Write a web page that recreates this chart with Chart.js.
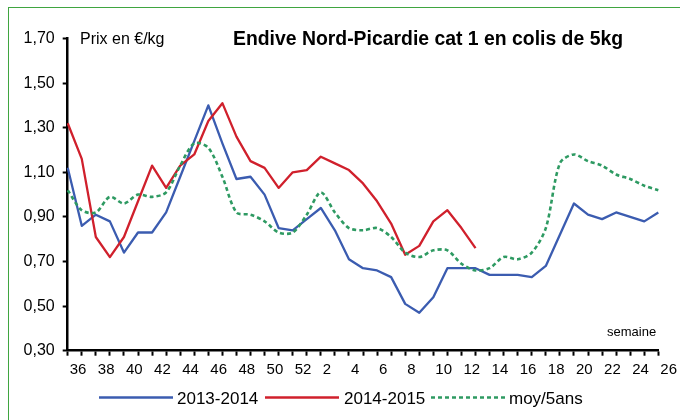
<!DOCTYPE html>
<html><head><meta charset="utf-8">
<script src="https://cdn.jsdelivr.net/npm/chart.js@4/dist/chart.umd.min.js"></script>
<style>
html,body{margin:0;padding:0;background:#fff;}
#wrap{position:relative;width:680px;height:420px;overflow:hidden;background:#fff;}
#frame{position:absolute;left:8px;top:7px;width:720px;height:460px;border:1px solid #3fa540;box-sizing:border-box;}
canvas{position:absolute;left:0;top:0;}
</style></head><body>
<div id="wrap"><div id="frame"></div><canvas id="c" width="680" height="420"></canvas></div>
<script>
const weeks = ['36','37','38','39','40','41','42','43','44','45','46','47','48','49','50','51','52',
  '1','2','3','4','5','6','7','8','9','10','11','12','13','14','15','16','17','18','19','20','21','22','23','24','25','26'];
const s2013 = [1.12,0.86,0.91,0.88,0.74,0.83,0.83,0.92,1.08,1.24,1.40,1.23,1.07,1.08,1.00,0.85,0.84,0.89,0.94,0.84,
  0.71,0.67,0.66,0.63,0.51,0.47,0.54,0.67,0.67,0.67,0.64,0.64,0.64,0.63,0.68,0.82,0.96,0.91,0.89,0.92,0.90,0.88,0.92];
const s2014 = [1.32,1.16,0.81,0.72,0.81,0.97,1.13,1.03,1.13,1.18,1.33,1.41,1.26,1.15,1.12,1.03,1.10,1.11,1.17,1.14,
  1.11,1.05,0.97,0.87,0.73,0.77,0.88,0.93,0.85,0.76,null,null,null,null,null,null,null,null,null,null,null,null,null];
const sMoy = [1.02,0.93,0.92,0.99,0.96,1.00,0.99,1.01,1.13,1.23,1.21,1.08,0.92,0.91,0.88,0.83,0.83,0.91,1.01,0.92,
  0.85,0.84,0.85,0.81,0.74,0.72,0.75,0.75,0.69,0.66,0.67,0.72,0.71,0.74,0.85,1.14,1.18,1.15,1.13,1.09,1.07,1.04,1.02];
const seriesNames = ['2013-2014','2014-2015','moy/5ans'];
const yTicks = [0.30,0.50,0.70,0.90,1.10,1.30,1.50,1.70];
const titleText = 'Endive Nord-Picardie cat 1 en colis de 5kg';
const unitText = 'Prix en €/kg';
const xTitleText = 'semaine';

const FONT = '"Liberation Sans", Arial, sans-serif';

const extras = {
  id: 'extras',
  afterDraw(chart) {
    const ctx = chart.ctx;
    ctx.save();
    ctx.fillStyle = '#000';
    ctx.textBaseline = 'alphabetic';
    ctx.textAlign = 'center';
    ctx.font = 'bold 19.4px ' + FONT;
    ctx.fillText(titleText, 428, 45);
    ctx.textAlign = 'left';
    ctx.font = '16px ' + FONT;
    ctx.fillText(unitText, 80, 43.5);
    ctx.font = '13px ' + FONT;
    ctx.fillText(xTitleText, 607, 336);
    // legend
    const lineX = [99, 265, 431];
    const textX = [177, 344, 509];
    const ly = 397.5;
    chart.data.datasets.forEach((ds, i) => {
      ctx.save();
      ctx.strokeStyle = ds.borderColor;
      ctx.lineWidth = ds.borderWidth;
      ctx.setLineDash(ds.borderDash || []);
      ctx.beginPath();
      ctx.moveTo(lineX[i], ly);
      ctx.lineTo(lineX[i] + 74, ly);
      ctx.stroke();
      ctx.restore();
      ctx.font = '17px ' + FONT;
      ctx.fillStyle = '#000';
      ctx.textAlign = 'left';
      ctx.textBaseline = 'alphabetic';
      ctx.fillText(ds.label, textX[i], 404);
    });
    ctx.restore();
  }
};

new Chart(document.getElementById('c'), {
  type: 'line',
  data: {
    labels: weeks,
    datasets: [
      { label: seriesNames[0], data: s2013, borderColor: '#3b5cb0', borderWidth: 2.3, pointRadius: 0, tension: 0, order: 2, borderJoinStyle: 'round' },
      { label: seriesNames[1], data: s2014, borderColor: '#d0202c', borderWidth: 2.3, pointRadius: 0, tension: 0, order: 1, borderJoinStyle: 'round' },
      { label: seriesNames[2], data: sMoy, borderColor: '#2e9a62', borderWidth: 2.6, borderDash: [4,3], pointRadius: 0, tension: 0.3, order: 0 }
    ]
  },
  options: {
    responsive: false,
    animation: false,
    events: [],
    layout: { padding: { left: 7.7, top: 38.5, right: 21, bottom: 29.3 } },
    plugins: { legend: { display: false }, title: { display: false }, tooltip: { enabled: false } },
    scales: {
      x: {
        type: 'category',
        offset: false,
        grid: { drawOnChartArea: false, drawTicks: true, tickLength: 5, tickWidth: 2, tickColor: '#000' },
        border: { display: true, color: '#000', width: 2.5 },
        ticks: {
          autoSkip: false, maxRotation: 0, minRotation: 0, align: 'start', labelOffset: 2, padding: 5,
          color: '#000', font: { family: FONT, size: 15 },
          callback: (v, i) => (i % 2 === 0 ? weeks[i] : '')
        },
        afterFit: (s) => { s.height = 40; }
      },
      y: {
        min: yTicks[0], max: yTicks[yTicks.length - 1],
        afterBuildTicks: (s) => { s.ticks = yTicks.map(v => ({ value: v })); },
        grid: { drawOnChartArea: false, drawTicks: true, tickLength: 5, tickWidth: 2, tickColor: '#000' },
        border: { display: true, color: '#000', width: 2.5 },
        ticks: {
          padding: 8, color: '#000', font: { family: FONT, size: 16 },
          callback: (v) => Number(v).toFixed(2).replace('.', ',')
        },
        afterFit: (s) => { s.width = 60; }
      }
    }
  },
  plugins: [extras]
});
</script>
</body></html>
